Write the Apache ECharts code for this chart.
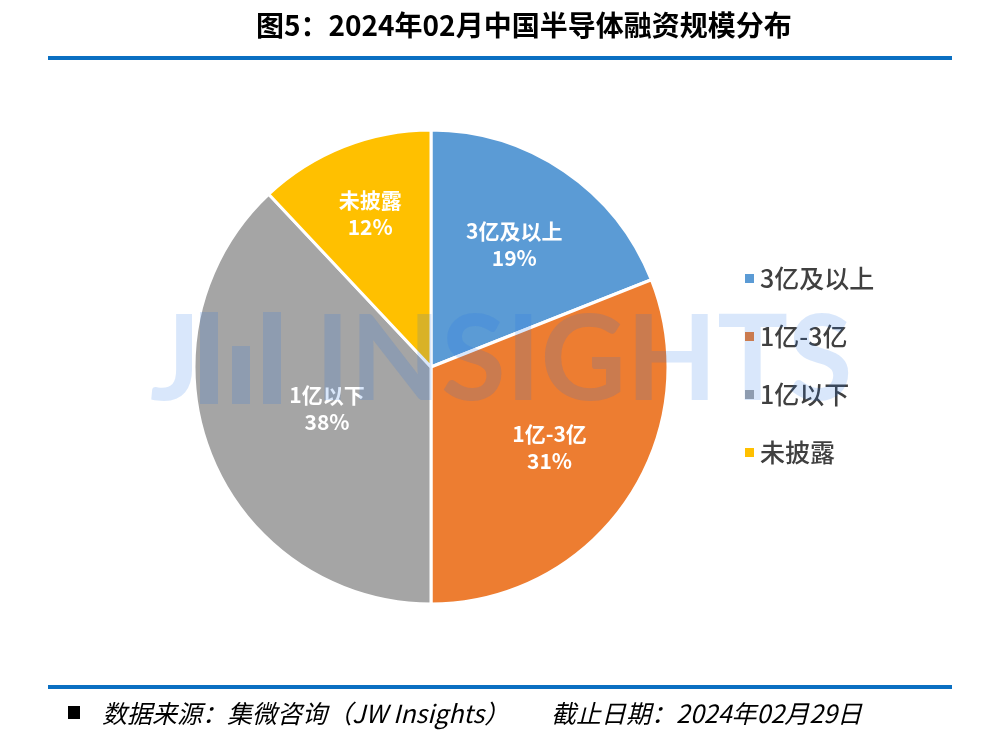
<!DOCTYPE html>
<html>
<head>
<meta charset="utf-8">
<script src="https://cdn.jsdelivr.net/npm/echarts@6/dist/echarts.min.js"></script>
<style>
html,body{margin:0;padding:0;background:#fff;}
#chart{width:1000px;height:733px;}
</style>
</head>
<body>
<div id="chart"></div>
<script>
const titleText = '图5：2024年02月中国半导体融资规模分布';
const categories = ['3亿及以上', '1亿-3亿', '1亿以下', '未披露'];
const shares = [19, 31, 38, 12];
const sourceText = '数据来源：集微咨询（JW Insights）';
const dateText = '截止日期：2024年02月29日';

const colors = ['#5b9bd5', '#ed7d31', '#a5a5a5', '#ffc000'];
const labelRadial = [1.22, 1.18, 0.92, 1.36];
const CJK = '"Noto Sans CJK SC", "Noto Sans", sans-serif';
const CX = 431, CY = 367, R = 237;

const chart = echarts.init(document.getElementById('chart'), null, {renderer: 'canvas'});
const wmColor = 'rgba(30,110,230,0.17)';

chart.setOption({
  animation: false,
  color: colors,
  title: {
    text: titleText,
    left: 251,
    top: 6,
    textStyle: {fontFamily: CJK, fontSize: 28, fontWeight: 'bold', color: '#000'}
  },
  legend: {
    orient: 'vertical',
    left: 738,
    top: 261,
    itemWidth: 11,
    itemHeight: 11,
    itemGap: 33,
    icon: 'rect',
    data: categories,
    textStyle: {fontFamily: CJK, fontSize: 25, fontWeight: 500, color: '#404040', lineHeight: 24}
  },
  series: [{
    type: 'pie',
    center: [CX, CY],
    radius: [0, R],
    startAngle: 90,
    clockwise: true,
    itemStyle: {borderColor: '#fff', borderWidth: 3},
    label: {
      show: true,
      position: 'inside',
      formatter: p => p.name + '\n' + p.value + '%',
      fontFamily: CJK,
      fontSize: 21,
      fontWeight: 'bold',
      lineHeight: 27,
      color: '#fff'
    },
    labelLine: {show: false},
    labelLayout: function (params) {
      const r = params.labelRect;
      const lx = r.x + r.width / 2, ly = r.y + r.height / 2;
      const f = labelRadial[params.dataIndex];
      return {x: CX + (lx - CX) * f, y: CY + (ly - CY) * f};
    },
    data: categories.map((c, i) => ({name: c, value: shares[i]}))
  }],
  graphic: [
    {type: 'rect', shape: {x: 48, y: 56, width: 904, height: 4}, style: {fill: '#0a6fc2'}},
    {type: 'rect', shape: {x: 48, y: 685, width: 904, height: 4}, style: {fill: '#0a6fc2'}},
    {type: 'rect', shape: {x: 68, y: 706, width: 12, height: 13}, style: {fill: '#000'}},
    {type: 'text', x: 102, y: 713, style: {text: sourceText, fontFamily: CJK, fontSize: 25, fontStyle: 'italic', fill: '#000', verticalAlign: 'middle', align: 'left'}},
    {type: 'text', x: 551, y: 713, style: {text: dateText, fontFamily: CJK, fontSize: 25, fontStyle: 'italic', fill: '#000', verticalAlign: 'middle', align: 'left'}},
    // watermark
    {type: 'group', z: 100, children: [
      {type: 'text', z: 100, x: 150, y: 362, style: {text: 'J', fontFamily: 'Lato', fontWeight: 'bold', fontSize: 118, fill: wmColor, verticalAlign: 'middle', align: 'left'}},
      {type: 'rect', z: 100, shape: {x: 200, y: 312, width: 18, height: 92}, style: {fill: wmColor}},
      {type: 'rect', z: 100, shape: {x: 232, y: 346, width: 18, height: 58}, style: {fill: wmColor}},
      {type: 'rect', z: 100, shape: {x: 263, y: 312, width: 18, height: 92}, style: {fill: wmColor}},
      {type: 'text', z: 100, x: 315, y: 362, style: {text: 'INSIGHTS', fontFamily: 'Lato', fontWeight: 'bold', fontSize: 118, fill: wmColor, verticalAlign: 'middle', align: 'left'}}
    ]}
  ]
});
</script>
</body>
</html>
